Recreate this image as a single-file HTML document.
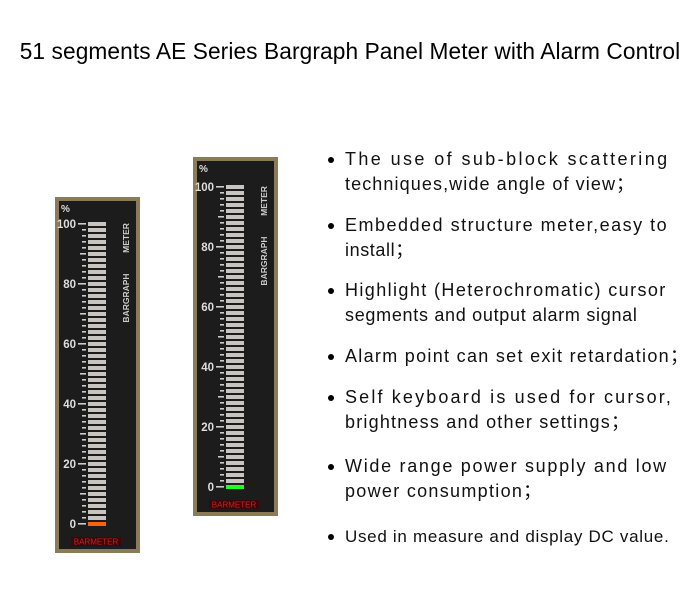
<!DOCTYPE html>
<html><head><meta charset="utf-8">
<style>
body{margin:0;width:700px;height:600px;background:#fff;font-family:"Liberation Sans",Arial,sans-serif;position:relative;overflow:hidden}
.t{position:absolute;left:0;width:700px;top:38px;text-align:center;font-size:22.7px;color:#000;letter-spacing:0.1px;white-space:nowrap}
.b{position:absolute;left:328px;font-size:18px;color:#111;line-height:25px}
.b:before{content:"";position:absolute;left:0;top:10px;width:6px;height:6px;border-radius:50%;background:#000}
.b span{display:block;padding-left:17px;white-space:nowrap}
</style></head><body>
<div class="t">51 segments AE Series Bargraph Panel Meter with Alarm Control</div>
<svg id="s" width="700" height="600" style="position:absolute;left:0;top:0"></svg>
<div class="b" style="top:147px"><span style="letter-spacing:2.4px">The use of sub-block scattering</span><span style="letter-spacing:1.1px">techniques,wide angle of view；</span></div>
<div class="b" style="top:213px"><span style="letter-spacing:1.5px">Embedded structure meter,easy to</span><span style="letter-spacing:0.6px">install；</span></div>
<div class="b" style="top:278px"><span style="letter-spacing:1.4px">Highlight (Heterochromatic) cursor</span><span style="letter-spacing:0.7px">segments and output alarm signal</span></div>
<div class="b" style="top:344px"><span style="letter-spacing:1.3px">Alarm point can set exit retardation；</span></div>
<div class="b" style="top:385px"><span style="letter-spacing:2.15px">Self keyboard is used for cursor,</span><span style="letter-spacing:1.2px">brightness and other settings；</span></div>
<div class="b" style="top:454px"><span style="letter-spacing:1.7px">Wide range power supply and low</span><span style="letter-spacing:1.3px">power consumption；</span></div>
<div class="b" style="top:524px"><span style="font-size:17px;letter-spacing:0.7px">Used in measure and display DC value.</span></div>
<script>
function meter(x,y,h,top,color){
 var s='';
 s+='<rect x="'+x+'" y="'+y+'" width="85" height="'+h+'" fill="#8c7b58"/>';
 s+='<rect x="'+(x+4)+'" y="'+(y+4)+'" width="77" height="'+(h-8)+'" fill="#1c1c1c"/>';
 s+='<text x="'+(x+6)+'" y="'+(y+15)+'" fill="#ddd" font-size="10" font-weight="bold" font-family="Liberation Sans">%</text>';
 var p=6;
 for(var i=0;i<=50;i++){
  var yy=top+(50-i)*p;
  s+='<rect x="'+(x+33)+'" y="'+yy+'" width="18" height="4" fill="'+(i==0?color:'#c8c4c0')+'"/>';
  var len=(i%10==0)?8:(i%5==0?6:4);
  s+='<rect x="'+(x+31-len)+'" y="'+(yy+1)+'" width="'+len+'" height="1.6" fill="#ccc"/>';
  if(i%10==0) s+='<text x="'+(x+21)+'" y="'+(yy+6)+'" text-anchor="end" fill="#ddd" font-size="11.5" font-weight="bold" font-family="Liberation Sans">'+(i*2)+'</text>';
 }
 s+='<text transform="translate('+(x+74)+','+(top+16)+') rotate(-90)" text-anchor="middle" fill="#ccc" font-size="8.5" font-weight="bold" font-family="Liberation Sans">METER</text>';
 s+='<text transform="translate('+(x+74)+','+(top+76)+') rotate(-90)" text-anchor="middle" fill="#ccc" font-size="8.5" font-weight="bold" font-family="Liberation Sans">BARGRAPH</text>';
 s+='<rect x="'+(x+16)+'" y="'+(y+h-16)+'" width="50" height="9" fill="#3a0808"/>';
 s+='<text x="'+(x+41)+'" y="'+(y+h-8.5)+'" text-anchor="middle" fill="#c82020" font-size="8" font-family="Liberation Sans">BARMETER</text>';
 return s;
}
document.getElementById('s').innerHTML=meter(55,197,356,222,'#ff6010')+meter(193,157,359,185,'#20ff20');
</script>
</body></html>
